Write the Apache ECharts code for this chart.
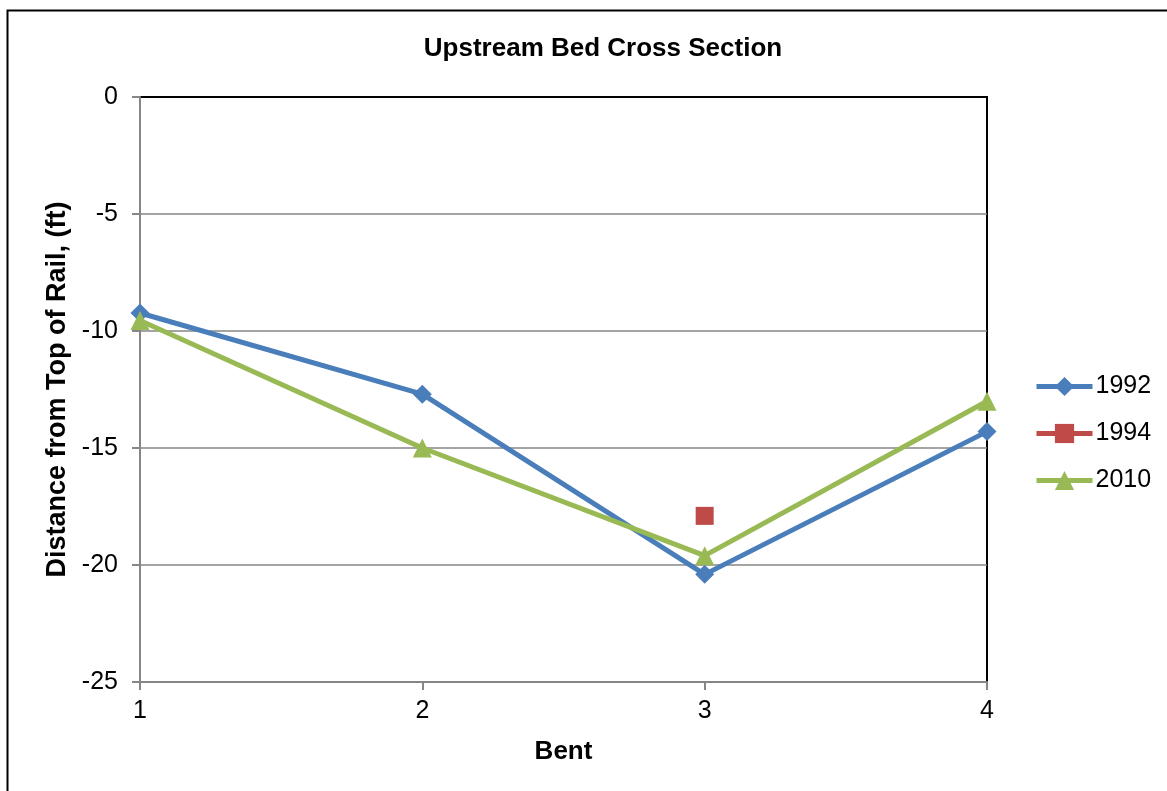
<!DOCTYPE html>
<html><head><meta charset="utf-8">
<script src="https://cdn.jsdelivr.net/npm/echarts@6/dist/echarts.min.js"></script>
<style>html,body{margin:0;padding:0;background:#fff}#c{width:1167px;height:791px}</style>
</head><body><div id="c"></div>
<script>
const bents = [1, 2, 3, 4];
const s1992 = [-9.23, -12.7, -20.4, -14.3];
const s1994 = [null, null, -17.9, null];
const s2010 = [-9.55, -15.0, -19.6, -13.0];
const yTicks = [0, -5, -10, -15, -20, -25];

const toPts = arr => bents.map((b, i) => [b, arr[i]]).filter(p => p[1] !== null);
const font = 'Liberation Sans, Arial, sans-serif';
const chart = echarts.init(document.getElementById('c'));
chart.setOption({
  animation: false,
  backgroundColor: '#fff',
  graphic: [{type: 'rect', shape: {x: 7.5, y: 10.5, width: 1200, height: 900}, style: {fill: 'none', stroke: '#000', lineWidth: 2}, silent: true}],
  title: {text: 'Upstream Bed Cross Section', left: 598, textAlign: 'center', top: 31,
    textStyle: {fontFamily: font, fontSize: 26, fontWeight: 'bold', color: '#000'}},
  grid: {left: 140, top: 97, width: 847, height: 585, show: true, borderColor: '#000', borderWidth: 2, backgroundColor: 'transparent'},
  legend: {orient: 'vertical', left: 1029, top: 369, itemWidth: 56, itemHeight: 24, itemGap: 22,
    lineStyle: {width: 5},
    textStyle: {fontFamily: font, fontSize: 25, color: '#000', padding: [0, 0, 0, -2]}, data: ['1992', '1994', '2010']},
  xAxis: {type: 'value', min: 1, max: 4, interval: 1, name: 'Bent', nameLocation: 'middle', nameGap: 57,
    nameTextStyle: {fontFamily: font, fontSize: 26, fontWeight: 'bold', color: '#000'},
    axisLine: {onZero: false, lineStyle: {color: '#868686', width: 2}}, axisTick: {show: true, length: 8, lineStyle: {color: '#868686', width: 2}},
    axisLabel: {fontFamily: font, fontSize: 25, color: '#000', margin: 17}, splitLine: {show: false}},
  yAxis: {type: 'value', min: -25, max: 0, interval: 5, name: 'Distance from Top of Rail, (ft)', nameLocation: 'middle', nameGap: 68,
    nameTextStyle: {fontFamily: font, fontSize: 27, fontWeight: 'bold', color: '#000'},
    axisLine: {show: true, lineStyle: {color: '#868686', width: 2}}, axisTick: {show: true, length: 8, lineStyle: {color: '#868686', width: 2}},
    axisLabel: {fontFamily: font, fontSize: 25, color: '#000', margin: 22, formatter: v => yTicks.includes(v) ? String(v) : ''},
    splitLine: {showMaxLine: false, lineStyle: {color: '#868686', width: 1.5}}},
  series: [
    {name: '1992', type: 'line', data: toPts(s1992), symbol: 'diamond', symbolSize: 19, color: '#4a7ebb',
      lineStyle: {width: 5, color: '#4a7ebb'}, itemStyle: {color: '#4a7ebb'}},
    {name: '1994', type: 'line', data: toPts(s1994), symbol: 'rect', symbolSize: 18, color: '#be4b48',
      lineStyle: {width: 5, color: '#be4b48'}, itemStyle: {color: '#be4b48'}},
    {name: '2010', type: 'line', data: toPts(s2010), symbol: 'triangle', symbolSize: 19, color: '#98b954',
      lineStyle: {width: 5, color: '#98b954'}, itemStyle: {color: '#98b954'}}
  ]
});
</script></body></html>
